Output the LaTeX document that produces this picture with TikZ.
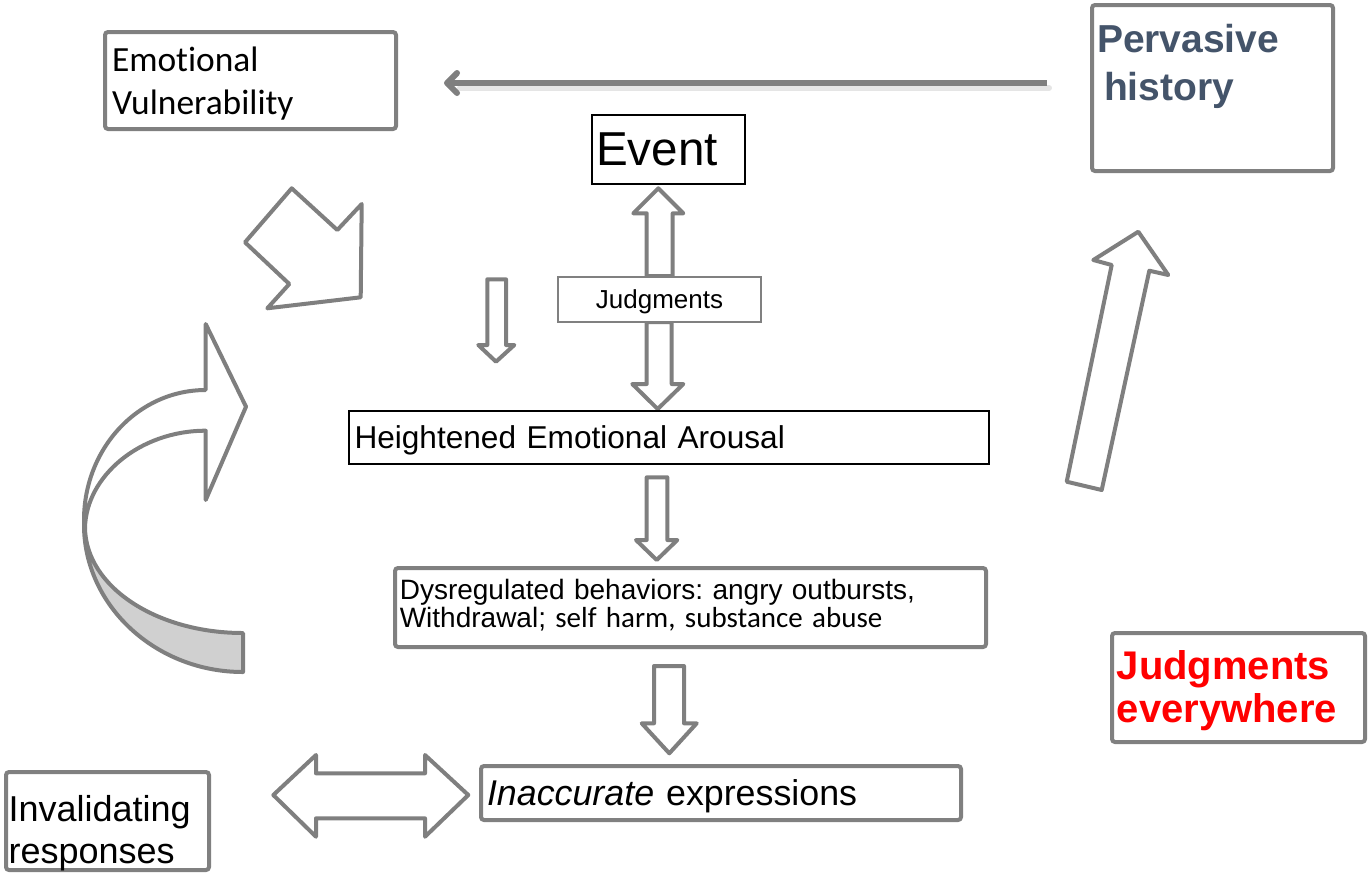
\documentclass[tikz,border=0pt]{standalone}
\usepackage{fontspec}
\setmainfont{Liberation Sans}
\newfontfamily\carlito[Ligatures=NoCommon]{Carlito}
\usetikzlibrary{arrows.meta}
\definecolor{boxgray}{HTML}{808080}
\definecolor{argray}{HTML}{7F7F7F}
\definecolor{pvblue}{HTML}{44546A}
\definecolor{bandgray}{HTML}{D0D0D0}
\frenchspacing
\begin{document}
\begin{tikzpicture}[x=0.5pt,y=-0.5pt,
  gbox/.style={draw=boxgray, line width=2pt, fill=white, rounded corners=1.5pt, inner ysep=0pt, align=left},
  kbox/.style={draw=black, line width=1pt, fill=white, inner ysep=0pt, align=left},
  barrow/.style={draw=argray, line width=2pt, fill=white, line join=round},
  toparrow/.style={draw=argray, line width=3pt, -{Straight Barb[length=5pt,width=10pt,round]}}
]
\useasboundingbox (0,0) rectangle (1369,874);

% block arrows (drawn first, boxes go over them)
\draw[barrow] (291.7,188.3) -- (337.3,230) -- (361.7,204) -- (360.7,297.3) -- (267.3,308.3) -- (289.3,284) -- (245,242.3) -- cycle;

\draw[barrow, fill=bandgray] (84,520) -- (84,525) .. controls (84,605) and (155,672) .. (243,672) -- (243,633) .. controls (157,633) and (86,587) .. (85,528) -- cycle;
\draw[barrow] (205.7,390) -- (205.7,324) -- (246,406.7) -- (205.7,500) -- (205.7,430.7) .. controls (140,430.7) and (86,476) .. (85,528) -- (84,520) .. controls (84,448) and (138.5,390) .. (205.7,390) -- cycle;

\draw[barrow] (1138.3,231.7) -- (1168.3,275) -- (1149.3,270.7) -- (1101.7,490) -- (1066.7,481.7) -- (1111.7,265) -- (1093.3,260) -- cycle;

\draw[barrow] (487.3,279.3) -- (506,279.3) -- (506,345) -- (514.3,345) -- (496,361.7) -- (478.3,345) -- (487.3,345) -- cycle;

\draw[barrow] (658.3,188.3) -- (683.3,213.3) -- (672.7,213.3) -- (672.7,276) -- (646.7,276) -- (646.7,213.3) -- (633.3,213.3) -- cycle;
\draw[barrow] (646.7,322) -- (671.7,322) -- (671.7,384) -- (683.3,384) -- (657.7,409) -- (632.3,384) -- (646.7,384) -- cycle;
\draw[barrow] (646.7,477.3) -- (667.3,477.3) -- (667.3,540) -- (677.3,540) -- (656.7,560) -- (636,540) -- (646.7,540) -- cycle;
\draw[barrow] (654,666) -- (684,666) -- (684,723.3) -- (696.7,723.3) -- (669.3,753.3) -- (641.7,723.3) -- (654,723.3) -- cycle;

\draw[barrow] (273.3,795) -- (316,755) -- (316,773.3) -- (425,773.3) -- (425,755) -- (468.3,795) -- (425,836.7) -- (425,818.3) -- (316,818.3) -- (316,836.7) -- cycle;

% boxes
\node[gbox, minimum width=145.5pt, minimum height=48.5pt, inner xsep=3.5pt, text width=138.5pt, text depth=20.9pt,
  font=\carlito\fontsize{17.7pt}{21.5pt}\selectfont] (ev) at (250.5,80.5) {Emotional\\Vulnerability};

\node[gbox, minimum width=120.5pt, minimum height=83pt, inner xsep=2.5pt, text width=115.5pt, text depth=50pt,
  text=pvblue, font=\bfseries\fontsize{19.5pt}{24pt}\selectfont] (pv) at (1212.5,88) {Pervasive\\\hspace*{3.5pt}history};

\node[kbox, minimum width=76.5pt, minimum height=34.5pt, inner xsep=2pt, text width=72.5pt, text depth=0pt,
  font=\fontsize{23.8pt}{28pt}\selectfont] (evt) at (668.5,149.5) {Event};

\node[draw=boxgray, line width=1pt, fill=white, minimum width=101.5pt, minimum height=22.5pt, inner sep=0pt, text depth=0pt,
  font=\fontsize{13pt}{15pt}\selectfont] (jd) at (659.5,299.5) {Judgments};

\node[kbox, minimum width=320pt, minimum height=26.5pt, inner xsep=2.75pt, text width=314.5pt, text depth=0pt,
  font=\fontsize{15.8pt}{19pt}\selectfont] (ha) at (669,437.5) {Heightened Emotional Arousal};

\node[gbox, minimum width=295.5pt, minimum height=39.5pt, inner xsep=2.4pt, text width=290.7pt, text depth=17.7pt,
  font=\fontsize{14pt}{14pt}\selectfont] (db) at (690.5,607.5) {Dysregulated behaviors: angry outbursts,\\Withdrawal;{\carlito\fontsize{14.5pt}{14pt}\selectfont{} self harm, substance abuse}};

\node[gbox, minimum width=240pt, minimum height=27pt, inner xsep=3pt, text width=234pt, text depth=0pt,
  font=\fontsize{17.9pt}{21pt}\selectfont] (ie) at (721,793) {\textit{Inaccurate} expressions};

\node[gbox, minimum width=101.5pt, minimum height=49pt, inner xsep=1.3pt, text width=98.9pt, text depth=13pt,
  font=\fontsize{18pt}{21pt}\selectfont] (ir) at (107.5,821) {Invalidating\\responses};

\node[gbox, minimum width=126.5pt, minimum height=54.5pt, inner xsep=2.4pt, text width=121.7pt, text depth=22.7pt,
  text=red, font=\bfseries\fontsize{20pt}{21.5pt}\selectfont] (je) at (1238.5,687.5) {Judgments\\everywhere};

% connector from Pervasive history towards Emotional Vulnerability
\coordinate (tA) at (1047,83);
\coordinate (tB) at (444,83);
\draw[line width=3pt, black!10, line cap=round] ([xshift=1pt,yshift=-2.5pt]tA) -- ([xshift=8pt,yshift=-2.5pt]tB);
\draw[toparrow] (tA) -- (tB);
\end{tikzpicture}
\end{document}
